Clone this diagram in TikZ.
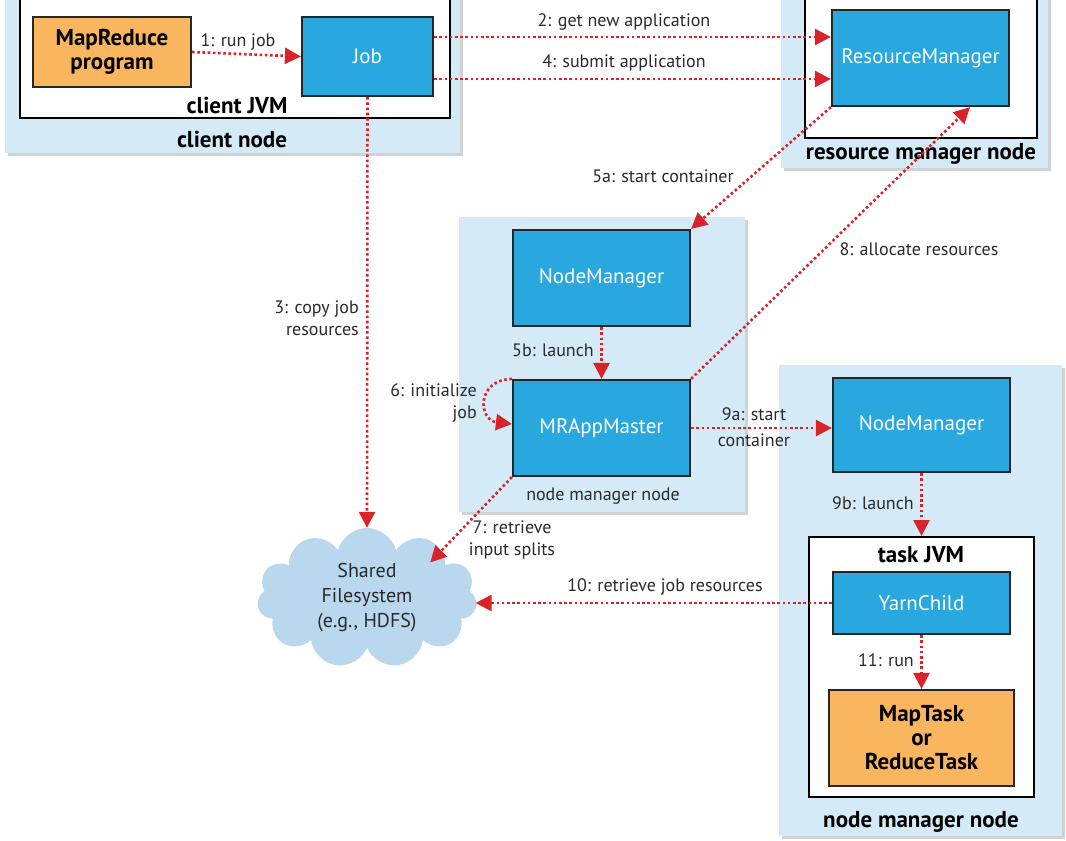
\documentclass[tikz,border=0pt]{standalone}
\usepackage{fontspec}
\setmainfont{PT Sans}
\usetikzlibrary{arrows.meta,shapes.symbols,shadows,calc}
\definecolor{bgblue}{HTML}{D4EBF7}
\definecolor{boxblue}{HTML}{29A8E0}
\definecolor{boxorange}{HTML}{F9B65F}
\definecolor{arrred}{HTML}{D8232A}
\definecolor{cloudblue}{HTML}{B9D8EE}
\definecolor{txt}{HTML}{2A2A2A}
\tikzset{
 lbnode/.style={fill=bgblue, draw=none, inner sep=0pt, drop shadow={opacity=0.35,shadow xshift=3pt,shadow yshift=-3pt}},
 jvmbox/.style={fill=white, draw=black, line width=2pt, inner sep=0pt},
 bluebox/.style={fill=boxblue, draw=black!85, line width=2.2pt, inner sep=0pt, text=white, font=\fontsize{21}{25}\selectfont},
 orangebox/.style={fill=boxorange, draw=black!85, line width=2.2pt, inner sep=0pt, align=center, font=\bfseries\fontsize{23}{24}\selectfont},
 arr/.style={draw=arrred, line width=2.6pt, dash pattern=on 2.6pt off 2.6pt, -{Triangle[length=16pt,width=16pt]}},
 lbl/.style={inner sep=0pt, text=txt, font=\fontsize{18}{22}\selectfont},
 ttl/.style={inner sep=0pt, text=black, font=\bfseries\fontsize{23}{26}\selectfont},
}
\begin{document}
\begin{tikzpicture}[x=1pt,y=-1pt]
\useasboundingbox (0,0) rectangle (1066,841);
\clip (0,0) rectangle (1066,841);
\fill[white] (0,0) rectangle (1066,841);
% containers
\node[lbnode, minimum width=455pt, minimum height=183pt] (clientnode) at (232.5,61.5) {};
\node[jvmbox, minimum width=430pt, minimum height=148pt] (clientjvm) at (235,44) {};
\node[lbnode, minimum width=267pt, minimum height=198pt] (rmnode) at (914.5,69) {};
\node[jvmbox, minimum width=232pt, minimum height=168pt] (rmjvm) at (921,54) {};
\node[lbnode, minimum width=286pt, minimum height=295pt] (nmnode) at (602,364.5) {};
\node[lbnode, minimum width=283pt, minimum height=471pt] (nmnode2) at (920.5,600.5) {};
\node[jvmbox, minimum width=225pt, minimum height=260pt] (taskjvm) at (921.5,667) {};
% boxes
\node[orangebox, minimum width=158pt, minimum height=70pt] (mr) at (112,52) {MapReduce\\program};
\node[bluebox, minimum width=131pt, minimum height=79pt] (job) at (367.5,56.5) {Job};
\node[bluebox, minimum width=177pt, minimum height=96pt] (rm) at (920.5,58) {ResourceManager};
\node[bluebox, minimum width=177pt, minimum height=96pt] (nm1) at (601.5,278) {NodeManager};
\node[bluebox, minimum width=177pt, minimum height=96pt] (mram) at (601.5,428) {MRAppMaster};
\node[bluebox, minimum width=177pt, minimum height=94pt] (nm2) at (921.5,425) {NodeManager};
\node[bluebox, minimum width=177pt, minimum height=62pt] (yarn) at (921.5,603) {YarnChild};
\node[orangebox, minimum width=185pt, minimum height=96pt] (task) at (921.5,738) {MapTask\\or\\ReduceTask};
\node[cloud, cloud puffs=11, aspect=1.6, fill=cloudblue, minimum width=220pt, minimum height=140pt, inner sep=0pt, align=center, text=txt, font=\fontsize{20}{25}\selectfont] (fs) at (367,598) {Shared\\Filesystem\\(e.g., HDFS)};
% titles
\node[ttl] (t1) at (237,105) {client JVM};
\node[ttl] (t2) at (232,139) {client node};
\node[ttl] (t3) at (921,154) {resource manager node};
\node[lbl] (t4) at (603,496) {node manager node};
\node[ttl] (t5) at (921,555) {task JVM};
\node[ttl] (t6) at (921,822) {node manager node};
% connectors
\draw[arr] (mr.east) -- (job.west);
\coordinate (j2) at ([yshift=19.5pt]job.east);
\coordinate (j4) at ([yshift=-22.5pt]job.east);
\draw[arr] (j2) -- (j2 -| rm.west);
\draw[arr] (j4) -- (j4 -| rm.west);
\draw[arr] (job.south) -- (fs.north);
\draw[arr] (rm.south west) -- (nm1.north east);
\draw[arr] (nm1.south) -- (mram.north);
\draw[arr] (mram.north west) .. controls (476,380) and (478,420) .. ([yshift=4pt]mram.west);
\draw[arr] (mram.south west) -- ([xshift=-9pt,yshift=-15pt]fs.35);
\draw[arr] (mram.north east) -- ([xshift=49.5pt]rm.south);
\draw[arr] (mram.east) -- (mram.east -| nm2.west);
\draw[arr] (nm2.south) -- (taskjvm.north);
\draw[arr] (yarn.west) -- (yarn.west -| fs.east);
\draw[arr] (yarn.south) -- (task.north);
% labels
\node[lbl] (l1) at (238,42) {1: run job};
\node[lbl] (l2) at (624,22) {2: get new application};
\node[lbl] (l4) at (624,63) {4: submit application};
\node[lbl, align=right, anchor=east] (l3) at (359,318) {3: copy job\\resources};
\node[lbl] (l5a) at (663,176) {5a: start container};
\node[lbl, anchor=east] (l5b) at (594,350) {5b: launch};
\node[lbl, align=right, anchor=east] (l6) at (477,403) {6: initialize\\job};
\node[lbl, align=center] (l7) at (512,540) {7: retrieve\\input splits};
\node[lbl] (l8) at (919,249) {8: allocate resources};
\node[lbl, align=center, font=\fontsize{18}{26}\selectfont] (l9a) at (754,427) {9a: start\\container};
\node[lbl, anchor=east] (l9b) at (914,503) {9b: launch};
\node[lbl] (l10) at (665,587) {10: retrieve job resources};
\node[lbl, anchor=east] (l11) at (914,660) {11: run};
\end{tikzpicture}
\end{document}
